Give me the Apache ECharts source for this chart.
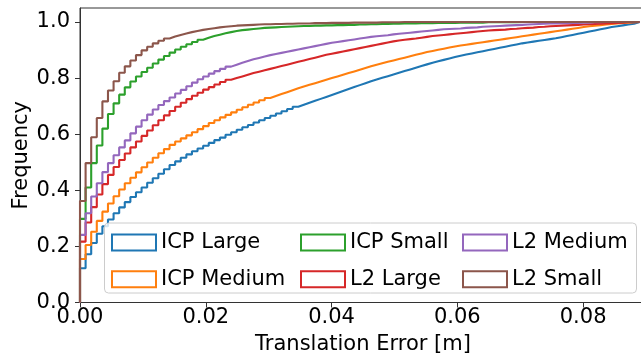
<!DOCTYPE html>
<html><head><meta charset="utf-8">
<script src="https://cdn.jsdelivr.net/npm/echarts@6/dist/echarts.min.js"></script>
<style>html,body{margin:0;padding:0;background:#fff}#c{width:641px;height:356px}</style>
</head><body><div id="c"></div>
<script>
// ---- data (cumulative histogram, 100 bins starting at 0) ----
const binWidth = 0.00089;
const seriesNames = ['ICP Large', 'ICP Medium', 'ICP Small', 'L2 Large', 'L2 Medium', 'L2 Small'];
const icpLarge = [
0.122,0.172,0.212,0.245,0.272,0.296,0.318,0.339,0.358,0.376,
0.393,0.410,0.427,0.443,0.459,0.475,0.490,0.503,0.516,0.528,
0.539,0.549,0.559,0.569,0.579,0.588,0.598,0.607,0.616,0.625,
0.633,0.642,0.650,0.658,0.666,0.674,0.682,0.690,0.698,0.705,
0.712,0.719,0.726,0.733,0.740,0.747,0.754,0.761,0.768,0.775,
0.782,0.789,0.795,0.801,0.807,0.813,0.819,0.825,0.831,0.837,
0.843,0.849,0.855,0.860,0.865,0.870,0.875,0.880,0.884,0.888,
0.892,0.896,0.900,0.904,0.908,0.912,0.916,0.920,0.924,0.927,
0.930,0.933,0.936,0.939,0.942,0.946,0.950,0.954,0.958,0.962,
0.966,0.970,0.974,0.978,0.982,0.985,0.988,0.991,0.994,1.000];
const icpMedium = [
0.155,0.205,0.252,0.291,0.324,0.353,0.379,0.403,0.425,0.445,
0.464,0.482,0.499,0.516,0.532,0.547,0.562,0.574,0.585,0.596,
0.607,0.618,0.629,0.640,0.650,0.660,0.669,0.678,0.687,0.696,
0.705,0.713,0.721,0.729,0.736,0.743,0.750,0.757,0.764,0.770,
0.776,0.782,0.788,0.794,0.800,0.806,0.812,0.818,0.824,0.830,
0.836,0.842,0.848,0.853,0.858,0.863,0.868,0.873,0.878,0.883,
0.888,0.893,0.897,0.901,0.905,0.909,0.913,0.916,0.919,0.922,
0.925,0.928,0.931,0.934,0.937,0.940,0.943,0.946,0.949,0.952,
0.955,0.958,0.961,0.964,0.967,0.970,0.973,0.976,0.979,0.982,
0.985,0.987,0.989,0.991,0.993,0.995,0.997,0.998,0.999,1.000];
const icpSmall = [
0.298,0.410,0.497,0.560,0.620,0.672,0.710,0.741,0.767,0.788,
0.806,0.822,0.837,0.852,0.866,0.879,0.891,0.902,0.912,0.921,
0.929,0.937,0.944,0.950,0.955,0.960,0.964,0.968,0.971,0.973,
0.975,0.977,0.979,0.980,0.981,0.982,0.983,0.984,0.985,0.986,
0.986,0.987,0.987,0.988,0.988,0.989,0.989,0.990,0.990,0.991,
0.991,0.992,0.992,0.993,0.993,0.994,0.994,0.995,0.995,0.995,
0.996,0.996,0.996,0.997,0.997,0.997,0.997,0.998,0.998,0.998,
0.998,0.998,0.999,0.999,0.999,0.999,0.999,0.999,1.000,1.000,
1.000,1.000,1.000,1.000,1.000,1.000,1.000,1.000,1.000,1.000,
1.000,1.000,1.000,1.000,1.000,1.000,1.000,1.000,1.000,1.000];
const l2Large = [
0.217,0.285,0.340,0.385,0.422,0.455,0.483,0.508,0.531,0.553,
0.574,0.594,0.613,0.632,0.650,0.667,0.683,0.698,0.712,0.725,
0.737,0.748,0.759,0.768,0.777,0.786,0.794,0.800,0.806,0.812,
0.818,0.823,0.828,0.833,0.838,0.843,0.848,0.853,0.858,0.863,
0.868,0.873,0.878,0.883,0.887,0.891,0.895,0.899,0.903,0.907,
0.911,0.915,0.919,0.923,0.927,0.931,0.934,0.937,0.939,0.941,
0.944,0.947,0.950,0.952,0.954,0.956,0.958,0.960,0.962,0.964,
0.966,0.968,0.970,0.971,0.972,0.973,0.975,0.976,0.978,0.979,
0.980,0.982,0.983,0.985,0.986,0.987,0.988,0.989,0.990,0.991,
0.992,0.993,0.994,0.995,0.996,0.997,0.998,0.999,0.999,1.000];
const l2Medium = [
0.241,0.318,0.378,0.425,0.465,0.497,0.525,0.553,0.578,0.603,
0.627,0.650,0.670,0.688,0.704,0.718,0.731,0.745,0.758,0.771,
0.784,0.796,0.806,0.816,0.825,0.833,0.841,0.848,0.855,0.861,
0.867,0.872,0.877,0.882,0.886,0.890,0.894,0.898,0.902,0.906,
0.910,0.914,0.918,0.922,0.926,0.929,0.932,0.935,0.938,0.941,
0.944,0.947,0.949,0.951,0.953,0.956,0.958,0.960,0.962,0.964,
0.966,0.968,0.970,0.972,0.974,0.975,0.976,0.977,0.979,0.980,
0.981,0.983,0.984,0.985,0.986,0.987,0.988,0.989,0.990,0.991,
0.992,0.993,0.994,0.995,0.995,0.996,0.996,0.997,0.997,0.998,
0.998,0.999,0.999,1.000,1.000,1.000,1.000,1.000,1.000,1.000];
const l2Small = [
0.362,0.497,0.589,0.658,0.717,0.756,0.789,0.819,0.842,0.863,
0.882,0.899,0.912,0.924,0.933,0.941,0.948,0.954,0.959,0.964,
0.968,0.972,0.975,0.978,0.981,0.983,0.985,0.987,0.988,0.989,
0.990,0.991,0.992,0.992,0.993,0.993,0.994,0.994,0.995,0.995,
0.995,0.996,0.996,0.996,0.997,0.997,0.997,0.997,0.998,0.998,
0.998,0.998,0.998,0.999,0.999,0.999,0.999,1.000,1.000,1.000,
1.000,1.000,1.000,1.000,1.000,1.000,1.000,1.000,1.000,1.000,
1.000,1.000,1.000,1.000,1.000,1.000,1.000,1.000,1.000,1.000,
1.000,1.000,1.000,1.000,1.000,1.000,1.000,1.000,1.000,1.000,
1.000,1.000,1.000,1.000,1.000,1.000,1.000,1.000,1.000,1.000];
const xTicks = [0, 0.02, 0.04, 0.06, 0.08];
const yTicks = [0, 0.2, 0.4, 0.6, 0.8, 1.0];

// ---- chart ----
const allValues = [icpLarge, icpMedium, icpSmall, l2Large, l2Medium, l2Small];
const colors = ['#1f77b4', '#ff7f0e', '#2ca02c', '#d62728', '#9467bd', '#8c564b'];
const FONT = 'DejaVu Sans';

function stepPoints(vals) {
  const pts = [[0, 0]];
  vals.forEach((v, i) => pts.push([i * binWidth, v]));
  pts.push([vals.length * binWidth, vals[vals.length - 1]]);
  return pts;
}

const series = seriesNames.map((name, i) => ({
  name, type: 'line', step: 'end', symbol: 'none', showSymbol: false,
  data: stepPoints(allValues[i]),
  lineStyle: { color: colors[i], width: 2.1 },
  itemStyle: { color: colors[i] },
  z: 2 + i * 0.01
}));

function legendCol(names, left) {
  return {
    data: names, orient: 'vertical', left: left, top: 232, padding: 0,
    itemWidth: 44, itemHeight: 16, itemGap: 15.7, icon: 'emptyRect',
    textStyle: { fontFamily: FONT, fontSize: 21, color: '#000' },
    selectedMode: false, z: 5
  };
}

const chart = echarts.init(document.getElementById('c'), null, { renderer: 'canvas' });
chart.setOption({
  animation: false,
  color: colors,
  grid: { left: 80, top: 8, width: 566, height: 294.5, containLabel: false, outerBoundsMode: 'none',
          show: true, borderColor: '#333', borderWidth: 1, backgroundColor: 'transparent' },
  xAxis: {
    type: 'value', min: 0, max: 0.09,
    name: 'Translation Error [m]', nameLocation: 'middle', nameGap: 32, nameMoveOverlap: false,
    nameTextStyle: { fontFamily: FONT, fontSize: 21, color: '#000' },
    axisLine: { show: true, onZero: false, lineStyle: { color: '#333', width: 1 } },
    axisTick: { show: true, length: 5, lineStyle: { color: '#333' }, customValues: xTicks },
    axisLabel: { fontFamily: FONT, fontSize: 21, color: '#000', margin: 5,
                 customValues: xTicks, formatter: v => v.toFixed(2) },
    splitLine: { show: false }
  },
  yAxis: {
    type: 'value', min: 0, max: 1.05,
    name: 'Frequency', nameLocation: 'middle', nameGap: 48, nameMoveOverlap: false,
    nameTextStyle: { fontFamily: FONT, fontSize: 21, color: '#000' },
    axisLine: { show: true, lineStyle: { color: '#333', width: 1 } },
    axisTick: { show: true, length: 5, lineStyle: { color: '#333' }, customValues: yTicks },
    axisLabel: { fontFamily: FONT, fontSize: 21, color: '#000', margin: 10,
                 customValues: yTicks, formatter: v => v.toFixed(1) },
    splitLine: { show: false }
  },
  legend: [
    legendCol(['ICP Large', 'ICP Medium'], 111),
    legendCol(['ICP Small', 'L2 Large'], 300),
    legendCol(['L2 Medium', 'L2 Small'], 462)
  ],
  graphic: [{
    type: 'rect', left: 104, top: 222.5, z: 4,
    shape: { width: 532, height: 70, r: 4 },
    style: { fill: 'rgba(255,255,255,0.8)', stroke: '#cccccc', lineWidth: 1 }
  }],
  series
});
</script></body></html>
